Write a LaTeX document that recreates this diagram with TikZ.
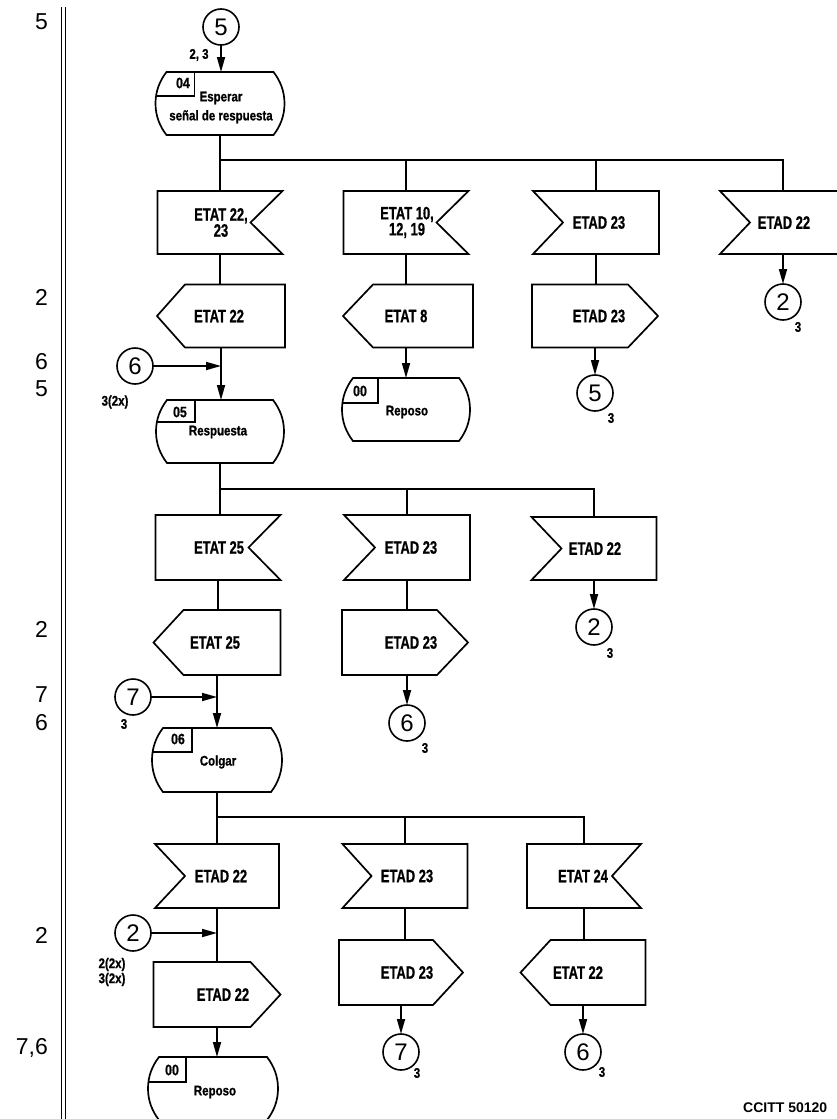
\documentclass[tikz,border=0pt]{standalone}
\usepackage{fontspec}
\setmainfont{Liberation Sans}
\newfontfamily\condA[FakeStretch=0.72,FakeBold=0.8]{Liberation Sans}
\newfontfamily\condB[FakeStretch=0.82,FakeBold=0.8]{Liberation Sans}
\usetikzlibrary{arrows.meta}

\tikzset{
  shp/.style={line width=1.7pt, line join=miter},
  ln/.style={line width=1.7pt},
  arr/.style={line width=1.7pt, -{Triangle[length=15pt,width=8pt]}},
  blank/.style={inner sep=0pt, outer sep=0pt},
  sig/.style={inner sep=0pt, font=\condA\bfseries\fontsize{18}{16}\selectfont, align=center},
  conn/.style={circle, draw, line width=1.6pt, minimum size=36pt, inner sep=0pt, outer sep=0pt, font=\fontsize{24}{24}\selectfont},
  sub/.style={inner sep=0pt, font=\condB\bfseries\fontsize{14}{15}\selectfont, align=center},
  stxt/.style={inner sep=0pt, font=\condB\bfseries\fontsize{14}{19}\selectfont, align=center},
  snum/.style={inner sep=0pt, font=\condB\bfseries\fontsize{15}{15}\selectfont},
  side/.style={inner sep=0pt, anchor=east, font=\fontsize{23}{23}\selectfont},
}

% input signal, notch on the right
\newcommand\SigInR[8]{%
  \node[blank, minimum width=#4pt, minimum height=#5pt] (#1) at (#2,#3) {};
  \draw[shp] (#1.north west) -- (#1.north east) -- ([xshift=-#6pt]#1.east) -- (#1.south east) -- (#1.south west) -- cycle;
  \node[sig] (#1t) at ([xshift=#8pt]#1.center) {#7};}
% input signal, notch on the left
\newcommand\SigInL[8]{%
  \node[blank, minimum width=#4pt, minimum height=#5pt] (#1) at (#2,#3) {};
  \draw[shp] (#1.north west) -- (#1.north east) -- (#1.south east) -- (#1.south west) -- ([xshift=#6pt]#1.west) -- cycle;
  \node[sig] (#1t) at ([xshift=#8pt]#1.center) {#7};}
% output signal, point on the left
\newcommand\SigOutL[8]{%
  \node[blank, minimum width=#4pt, minimum height=#5pt] (#1) at (#2,#3) {};
  \draw[shp] ([xshift=#6pt]#1.north west) -- (#1.north east) -- (#1.south east) -- ([xshift=#6pt]#1.south west) -- (#1.west) -- cycle;
  \node[sig] (#1t) at ([xshift=#8pt]#1.center) {#7};}
% output signal, point on the right
\newcommand\SigOutR[8]{%
  \node[blank, minimum width=#4pt, minimum height=#5pt] (#1) at (#2,#3) {};
  \draw[shp] (#1.north west) -- ([xshift=-#6pt]#1.north east) -- (#1.east) -- ([xshift=-#6pt]#1.south east) -- (#1.south west) -- cycle;
  \node[sig] (#1t) at ([xshift=#8pt]#1.center) {#7};}
% state box: name x y w h boxw boxh
\newcommand\StateBox[7]{%
  \node[blank, minimum width=#4pt, minimum height=#5pt] (#1) at (#2,#3) {};
  \draw[shp] ([xshift=11pt]#1.north west) -- ([xshift=-11pt]#1.north east)
     .. controls ([xshift=-4pt,yshift=-9pt]#1.north east) and ([yshift=12pt]#1.east) .. (#1.east)
     .. controls ([yshift=-12pt]#1.east) and ([xshift=-4pt,yshift=9pt]#1.south east) .. ([xshift=-11pt]#1.south east)
     -- ([xshift=11pt]#1.south west)
     .. controls ([xshift=4pt,yshift=9pt]#1.south west) and ([yshift=-12pt]#1.west) .. (#1.west)
     .. controls ([yshift=12pt]#1.west) and ([xshift=4pt,yshift=-9pt]#1.north west) .. ([xshift=11pt]#1.north west) -- cycle;
  \draw[shp] ([xshift=#6pt]#1.north west) -- ([xshift=#6pt,yshift=-#7pt]#1.north west) -- ([xshift=1pt,yshift=-#7pt]#1.north west);}

\begin{document}
\begin{tikzpicture}[x=1pt,y=-1pt]
\useasboundingbox (0,0) rectangle (837,1119);

% left margin double rule
\draw[line width=1.8pt] (61.5,7) -- (61.5,1119);
\draw[line width=1.4pt] (65.5,7) -- (65.5,1119);

% left side numbers
\node[side] (n1) at (48,22) {5};
\node[side] (n2) at (48,297) {2};
\node[side] (n3) at (48,362) {6};
\node[side] (n4) at (48,389) {5};
\node[side] (n5) at (48,629) {2};
\node[side] (n6) at (48,695) {7};
\node[side] (n7) at (48,723) {6};
\node[side] (n8) at (48,935) {2};
\node[side] (n9) at (48,1048) {7,6};

\coordinate (b1) at (0,160);
\coordinate (b2) at (0,489);
\coordinate (b3) at (0,817);

% ---------- block 1 ----------
\node[conn] (c5a) at (221,27) {5};
\node[sub] (l23) at (199,55) {2, 3};
\StateBox{s04}{220}{103.5}{129}{63}{39}{24}
\node[snum] (s04n) at (183,83) {04};
\node[stxt] (s04t) at (221,107.5) {Esperar\\señal de respuesta};

\SigInR{i11}{220}{222.5}{125}{63}{32}{ETAT 22,\\23}{1}
\SigInR{i12}{406}{222.5}{125}{63}{32}{ETAT 10,\\12, 19}{1}
\SigInL{i13}{596}{222.5}{126}{63}{30}{ETAD 23}{3}
\SigInL{i14}{783}{222.5}{126}{63}{30}{ETAD 22}{1}

\SigOutL{o11}{221}{316}{128}{63}{28}{ETAT 22}{-2}
\SigOutL{o12}{408}{316}{130}{63}{30}{ETAT 8}{-2}
\SigOutR{o13}{595}{316}{126}{63}{30}{ETAD 23}{4}

\node[conn] (c2a) at (783,302) {2};
\node[sub] (c2as) at (798,327) {3};
\node[conn] (c5b) at (595,393) {5};
\node[sub] (c5bs) at (611,418) {3};

\StateBox{s00a}{406}{409.5}{128}{63}{36}{25}
\node[snum] (s00an) at (360,391) {00};
\node[stxt] (s00at) at (407,412) {Reposo};

\node[conn] (c6a) at (135,366) {6};
\node[sub] (l32x) at (115,402) {3(2x)};

\StateBox{s05}{220}{431.5}{128}{63}{39}{22}
\node[snum] (s05n) at (180,412) {05};
\node[stxt] (s05t) at (218,432) {Respuesta};

\draw[arr] (c5a.south) -- (c5a.south |- s04.north);
\draw[ln] (s04.south) -- (s04.south |- i11.north);
\draw[ln] (s04.south |- b1) -| (i14.north);
\draw[ln] (i12.north |- b1) -- (i12.north);
\draw[ln] (i13.north |- b1) -- (i13.north);
\draw[ln] (i11.south) -- (i11.south |- o11.north);
\draw[ln] (i12.south) -- (i12.south |- o12.north);
\draw[ln] (i13.south) -- (i13.south |- o13.north);
\draw[arr] (i14.south) -- (i14.south |- c2a.north);
\draw[arr] (o13.south) -- (o13.south |- c5b.north);
\draw[arr] (i12.south |- o12.south) -- (i12.south |- s00a.north);
\draw[arr] (o11.south) -- (o11.south |- s05.north);
\draw[arr] (c6a.east) -- (c6a.east -| o11.south);

% ---------- block 2 ----------
\SigInR{i21}{218}{547.5}{125}{65}{32}{ETAT 25}{1}
\SigInL{i22}{407}{547.5}{126}{65}{31}{ETAD 23}{4}
\SigInL{i23}{594}{548.5}{125}{63}{30}{ETAD 22}{1}

\SigOutL{o21}{217}{642.5}{127}{65}{30}{ETAT 25}{-2}
\SigOutR{o22}{405}{642.5}{126}{65}{31}{ETAD 23}{6}

\node[conn] (c2b) at (594,627) {2};
\node[sub] (c2bs) at (610,653) {3};
\node[conn] (c6b) at (407,723) {6};
\node[sub] (c6bs) at (425,748) {3};

\node[conn] (c7a) at (133,697) {7};
\node[sub] (l3) at (124,724) {3};

\StateBox{s06}{217}{760}{130}{64}{40}{24}
\node[snum] (s06n) at (178,739) {06};
\node[stxt] (s06t) at (218,762) {Colgar};

\draw[ln] (s05.south) -- (s05.south |- i21.north);
\draw[ln] (s05.south |- b2) -| (i23.north);
\draw[ln] (i22.north |- b2) -- (i22.north);
\draw[ln] (i21.south) -- (i21.south |- o21.north);
\draw[ln] (i22.south) -- (i22.south |- o22.north);
\draw[arr] (i23.south) -- (i23.south |- c2b.north);
\draw[arr] (i22.south |- o22.south) -- (i22.south |- c6b.north);
\draw[arr] (o21.south) -- (o21.south |- s06.north);
\draw[arr] (c7a.east) -- (c7a.east -| o21.south);

% ---------- block 3 ----------
\SigInL{i31}{217}{876}{124}{64}{30}{ETAD 22}{4}
\SigInL{i32}{405}{876}{125}{64}{29}{ETAD 23}{2}
\SigInR{i33}{584}{876}{114}{64}{29}{ETAT 24}{-1}

\SigOutR{o31}{217}{994.5}{127}{65}{30}{ETAD 22}{6}
\SigOutR{o32}{401}{972.5}{124}{65}{30}{ETAD 23}{6}
\SigOutL{o33}{583}{972.5}{125}{65}{30}{ETAT 22}{-5}

\node[conn] (c2c) at (133,933) {2};
\node[sub] (l2x) at (112,972) {2(2x)\\3(2x)};

\StateBox{s00b}{213}{1088.5}{130}{63}{38}{25}
\node[snum] (s00bn) at (172,1070) {00};
\node[stxt] (s00bt) at (215,1092) {Reposo};

\node[conn] (c7b) at (401,1052) {7};
\node[sub] (c7bs) at (417,1073) {3};
\node[conn] (c6c) at (583,1052) {6};
\node[sub] (c6cs) at (602,1072) {3};

\draw[ln] (s06.south) -- (s06.south |- i31.north);
\draw[ln] (s06.south |- b3) -| (i33.north);
\draw[ln] (i32.north |- b3) -- (i32.north);
\draw[ln] (i31.south) -- (i31.south |- o31.north);
\draw[arr] (c2c.east) -- (c2c.east -| i31.south);
\draw[arr] (o31.south) -- (o31.south |- s00b.north);
\draw[ln] (i32.south) -- (i32.south |- o32.north);
\draw[arr] (o32.south) -- (o32.south |- c7b.north);
\draw[ln] (i33.south) -- (i33.south |- o33.north);
\draw[arr] (o33.south) -- (o33.south |- c6c.north);

\node[anchor=north west, inner sep=0pt, font=\bfseries\fontsize{14}{14}\selectfont] (ccitt) at (743,1103) {CCITT 50120};
\end{tikzpicture}
\end{document}
